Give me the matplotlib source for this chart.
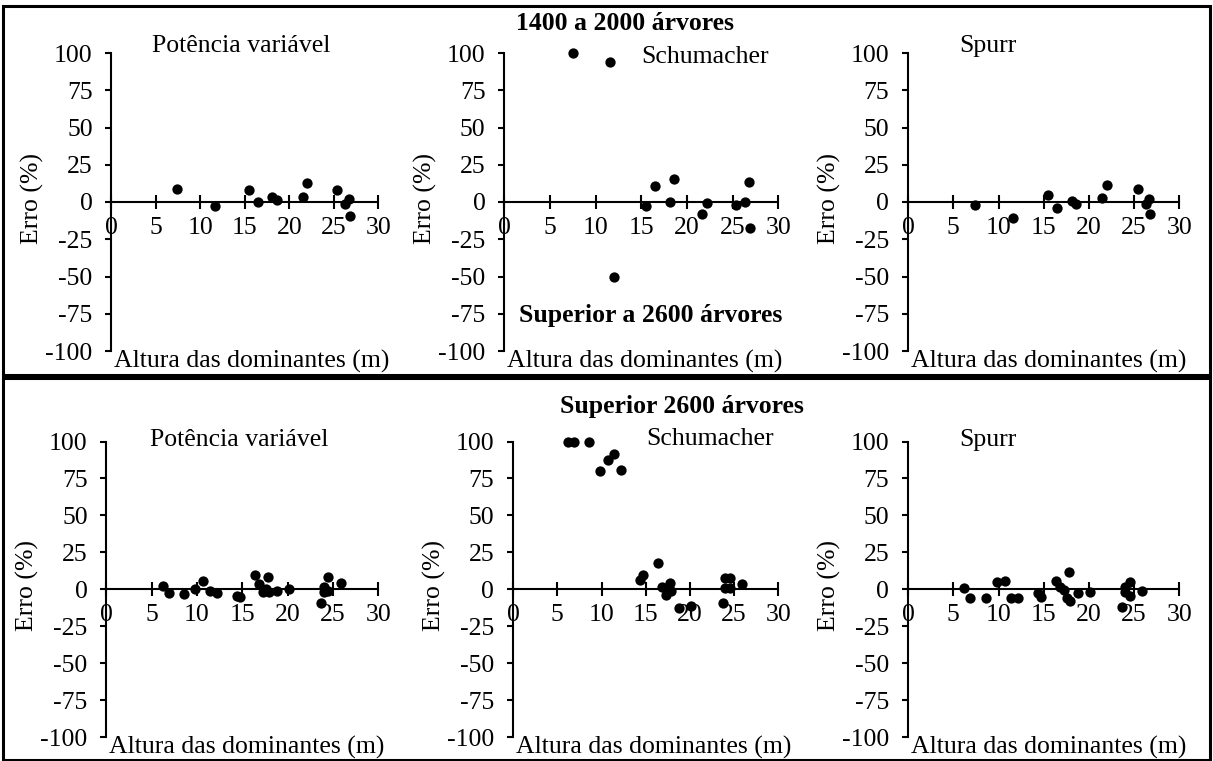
import matplotlib
matplotlib.use("Agg")
import matplotlib.pyplot as plt
from matplotlib.patches import Rectangle

plt.rcParams['font.family'] = ['Liberation Serif', 'DejaVu Serif']
plt.rcParams['axes.unicode_minus'] = False

W, H = 1213, 761
FS = 18.5

# --- dados: 1400 a 2000 árvores ---
altura_1400 = [7.4, 11.6, 15.5, 16.5, 18.1, 18.6, 21.5, 22.0, 25.4, 26.3, 26.7, 26.8]
erro_pot_1400 = [8.5, -2.7, 8.0, -0.2, 3.1, 1.3, 3.6, 12.5, 8.0, -1.3, 2.2, -9.2]
altura_sch_1400 = [7.5, 11.6, 12.0, 15.5, 16.5, 18.1, 18.6, 21.6, 22.2, 25.4, 26.4, 26.8, 26.9]
erro_sch_1400 = [100, 93.8, -50, -2.5, 11.0, 0.0, 15.4, -8.0, -0.9, -1.8, 0.2, 13.6, -17.2]
erro_spurr_1400 = [-2.2, -10.5, 4.5, -4.0, 0.7, -1.5, 2.7, 11.6, 8.4, -1.1, 2.3, -8.3]

# --- dados: superior a 2600 árvores ---
altura_2600 = [6.2, 6.9, 8.6, 9.8, 10.7, 11.4, 12.2, 14.4, 14.7, 16.4, 16.8, 17.3,
               17.6, 17.8, 17.9, 18.8, 20.1, 23.7, 24.0, 24.0, 24.5, 24.5, 25.9]
erro_pot_2600 = [2.2, -2.7, -2.9, 0.0, 5.6, -1.1, -2.3, -4.5, -5.0, 9.5, 3.4, -1.8,
                 0.0, 8.4, -1.8, -1.4, 0.0, -9.5, 1.8, -1.8, 8.4, -1.0, 4.1]
erro_sch_2600 = [100, 100, 100, 79.7, 87.6, 91.7, 80.4, 6.3, 9.7, 17.6, 1.4, -3.9,
                 -0.5, 4.0, -1.0, -12.9, -11.3, -9.1, 7.9, 0.7, 7.9, 0.7, 3.4]
erro_spurr_2600 = [0.7, -6.1, -5.7, 5.1, 5.6, -5.7, -5.7, -2.3, -5.0, 5.8, 1.4, -0.5,
                   -6.1, 11.5, -7.9, -2.7, -2.0, -11.8, 1.4, -1.6, 5.1, -4.5, -0.9]

x_ticks = [0, 5, 10, 15, 20, 25, 30]
y_ticks = [-100, -75, -50, -25, 0, 25, 50, 75, 100]

fig = plt.figure(figsize=(W / 100, H / 100), dpi=100)


def px_axes(left, right, top, bottom):
    return fig.add_axes([left / W, 1 - bottom / H, (right - left) / W, (bottom - top) / H])


def style(ax):
    ax.set_xlim(0, 30)
    ax.set_ylim(-100, 100)
    for s in ('top', 'right'):
        ax.spines[s].set_visible(False)
    ax.spines['left'].set_position(('data', 0))
    ax.spines['bottom'].set_position(('data', 0))
    for s in ('left', 'bottom'):
        ax.spines[s].set_linewidth(1.5)
    ax.set_xticks(x_ticks)
    ax.set_yticks(y_ticks)
    ax.set_xticklabels([str(v) for v in x_ticks])
    ax.set_yticklabels([str(v) for v in y_ticks])
    ax.tick_params(axis='x', direction='inout', length=9.5, width=1.5, pad=6, labelsize=FS)
    ax.tick_params(axis='y', direction='out', length=4.5, width=1.5, pad=9, labelsize=FS)
    ax.patch.set_alpha(0)
    ax.annotate('Altura das dominantes (m)', xy=(0, -100), xycoords='data',
                xytext=(2, -12), textcoords='offset points', ha='left', va='baseline',
                fontsize=FS, annotation_clip=False)


def scatter(ax, x, y):
    ax.scatter(x, y, s=55, color='black', linewidths=0, clip_on=False, zorder=3)


# molduras dos dois grupos
fig.add_artist(Rectangle((3 / W, 1 - 375 / H), 1207 / W, 369 / H, transform=fig.transFigure,
                         fill=False, lw=2.2, ec='black'))
fig.add_artist(Rectangle((3 / W, 1 - 760 / H), 1207 / W, 382 / H, transform=fig.transFigure,
                         fill=False, lw=2.2, ec='black'))

top_box = (53, 351)
bot_box = (441.5, 737)
axes_specs = [
    (111.5, 378.3, top_box, altura_1400, erro_pot_1400, 'Potência variável', (14.6, 105)),
    (504.3, 778.3, top_box, altura_sch_1400, erro_sch_1400, 'Schumacher', (22.0, 97)),
    (908.1, 1179.3, top_box, altura_1400, erro_spurr_1400, 'Spurr', (8.8, 105)),
    (106.4, 378.3, bot_box, altura_2600, erro_pot_2600, 'Potência variável', (14.6, 101)),
    (513.1, 778.3, bot_box, altura_2600, erro_sch_2600, 'Schumacher', (22.3, 102)),
    (908.1, 1179.3, bot_box, altura_2600, erro_spurr_2600, 'Spurr', (8.8, 101)),
]

for left, right, (top, bottom), xs, ys, name, (tx, ty) in axes_specs:
    ax = px_axes(left, right, top, bottom)
    style(ax)
    scatter(ax, xs, ys)
    ax.text(tx, ty, name, ha='center', va='center', fontsize=FS)
    fig.text((left - 79) / W, 1 - ((top + bottom) / 2 - 4) / H, 'Erro (%)',
             rotation=90, ha='center', va='center', fontsize=FS)
    if (left, top) == (504.3, 53):
        ax.text(16.0, -76, 'Superior a 2600 árvores', ha='center', va='center',
                fontsize=FS, fontweight='bold')

fig.text(625 / W, 1 - 24 / H, '1400 a 2000 árvores', ha='center', va='center',
         fontsize=FS, fontweight='bold')
fig.text(682 / W, 1 - 406 / H, 'Superior 2600 árvores', ha='center', va='center',
         fontsize=FS, fontweight='bold')

fig.savefig('out.png', dpi=100, facecolor='white')
